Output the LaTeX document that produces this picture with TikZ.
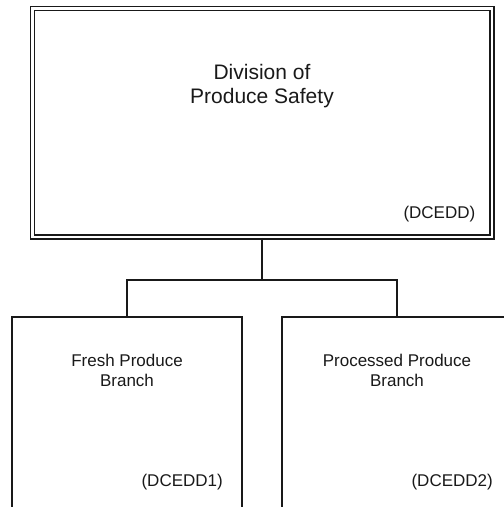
\documentclass[tikz,border=0pt]{standalone}
\usepackage{fontspec}
\setmainfont{Liberation Sans}
\usetikzlibrary{positioning}

\begin{document}
\begin{tikzpicture}[x=1pt, y=-1pt,
    divbox/.style={rectangle, draw=black!90, double=white, double distance=2.5pt,
                   line width=1.5pt, minimum width=459.5pt, minimum height=228.5pt, inner sep=0pt},
    branchbox/.style={rectangle, draw=black!90, line width=2pt,
                      minimum width=230pt, minimum height=240pt, inner sep=0pt},
    bigname/.style={font=\fontsize{21}{24}\selectfont, align=center, inner sep=0pt, text=black!90},
    smallname/.style={font=\fontsize{17}{20}\selectfont, align=center, inner sep=0pt, text=black!90},
    conn/.style={line width=2pt, draw=black!90}
]
\clip (0,0) rectangle (504,507);
\node[divbox] (div) at (262,122.75) {};
\node[branchbox] (fresh) at (127,437) {};
\node[branchbox] (proc) at (397,437) {};

\coordinate[below=42pt of div] (split);
\draw[conn] (div) -- (split);
\draw[conn] (fresh.north) |- (split) -| (proc.north);

\node[bigname, anchor=base] (divname) at ([shift={(0,95.5)}]div.north) {Division of\\Produce Safety};
\node[smallname, anchor=base east] (divcode) at ([shift={(-17,-19)}]div.south east) {(DCEDD)};
\node[smallname, anchor=base] (freshname) at ([shift={(0,70)}]fresh.north) {Fresh Produce\\Branch};
\node[smallname, anchor=base east] (freshcode) at ([shift={(-20,170)}]fresh.north east) {(DCEDD1)};
\node[smallname, anchor=base] (procname) at ([shift={(0,70)}]proc.north) {Processed Produce\\Branch};
\node[smallname, anchor=base east] (proccode) at ([shift={(-20,170)}]proc.north east) {(DCEDD2)};
\end{tikzpicture}
\end{document}
